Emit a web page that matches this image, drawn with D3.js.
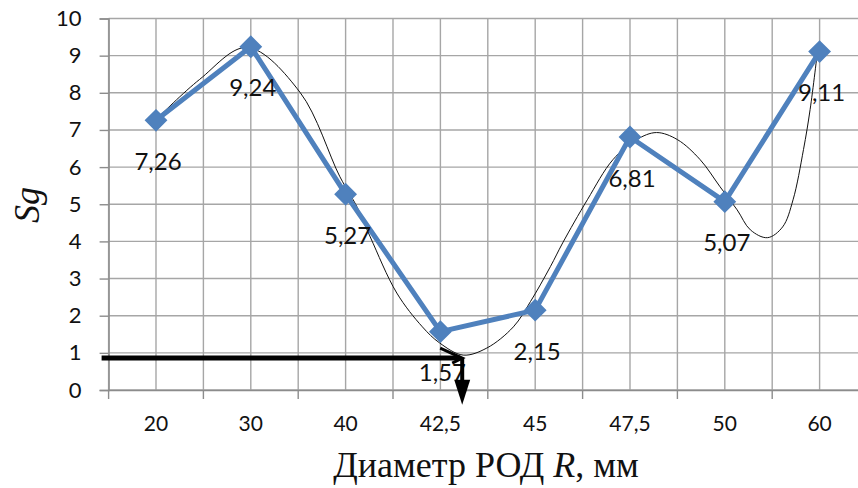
<!DOCTYPE html>
<html>
<head>
<meta charset="utf-8">
<script src="https://cdn.jsdelivr.net/npm/d3@7"></script>
<style>
  body { margin: 0; background: #fff; }
  svg { display: block; }
</style>
</head>
<body>
<svg id="chart" width="858" height="488"></svg>
<script>
// categories and values
var categories = ["20", "30", "40", "42,5", "45", "47,5", "50", "60"];
var sgValues = [7.26, 9.24, 5.27, 1.57, 2.15, 6.81, 5.07, 9.11];
var yTicks = [0, 1, 2, 3, 4, 5, 6, 7, 8, 9, 10];

// thin trend curve, [category position, value]
var trendPos = [0.02, 0.46, 0.96, 1.52, 1.94, 2.12, 2.26, 2.54, 2.81, 2.99, 3.24, 3.49, 3.77, 3.95, 4.16, 4.29, 4.55, 4.82, 5.07, 5.28, 5.5, 5.74, 5.95, 6.13, 6.27, 6.45, 6.61, 6.72, 6.83, 6.9, 6.98];
var trendVal = [7.33, 8.36, 9.22, 8.01, 5.74, 4.93, 4.12, 2.61, 1.7, 1.27, 0.94, 1.13, 1.7, 2.38, 3.32, 3.96, 5.12, 6.2, 6.74, 6.93, 6.74, 6.2, 5.47, 4.85, 4.31, 4.1, 4.39, 5.12, 6.47, 7.55, 9.16];

// annotation arrows (value / category position)
var arrowLevel = 0.86;
var arrowEndPos = 3.23;
var arrowDownTo = -0.4;

var svg = d3.select("#chart");
var blue = "#4F81BD";
var gridCol = "#a6a6a6";
var axisCol = "#8c8c8c";

var plotLeft = 108.6, plotRight = 867, plotTop = 18.5, plotBottom = 390;

var xBand = d3.scaleBand().domain(categories).range([plotLeft, plotRight]);
var xPos = d3.scaleLinear().domain([-0.5, categories.length - 0.5]).range([plotLeft, plotRight]);
var yScale = d3.scaleLinear().domain([0, 10]).range([plotBottom, plotTop]);

// gridlines
var grid = svg.append("g");
grid.selectAll("line.h")
  .data(yTicks)
  .enter()
  .append("line")
  .attr("class", "h")
  .attr("x1", plotLeft)
  .attr("x2", plotRight)
  .attr("y1", function(d) { return yScale(d); })
  .attr("y2", function(d) { return yScale(d); })
  .attr("stroke", gridCol)
  .attr("stroke-width", 1.4);

var halfSteps = d3.range(0, categories.length * 2 + 1).map(function(k) { return -0.5 + k * 0.5; });
grid.selectAll("line.v")
  .data(halfSteps)
  .enter()
  .append("line")
  .attr("class", "v")
  .attr("x1", function(d) { return xPos(d); })
  .attr("x2", function(d) { return xPos(d); })
  .attr("y1", plotTop)
  .attr("y2", plotBottom)
  .attr("stroke", gridCol)
  .attr("stroke-width", 1.4);

// y axis
var yAxis = svg.append("g")
  .attr("transform", "translate(" + plotLeft + ",0)")
  .call(d3.axisLeft(yScale).tickValues(yTicks).tickSize(9).tickPadding(18));
yAxis.select(".domain").attr("stroke", axisCol).attr("stroke-width", 1.4);
yAxis.selectAll(".tick line").attr("stroke", axisCol).attr("stroke-width", 1.4);
yAxis.selectAll(".tick text")
  .attr("font-family", "Lato, 'Open Sans', sans-serif")
  .attr("font-size", 22)
  .attr("fill", "#111");

// x axis
var xAxis = svg.append("g")
  .attr("transform", "translate(0," + plotBottom + ")")
  .call(d3.axisBottom(xBand).tickSize(0).tickPadding(26));
xAxis.select(".domain").attr("stroke", axisCol).attr("stroke-width", 1.4);
xAxis.selectAll(".tick text")
  .attr("font-family", "Lato, 'Open Sans', sans-serif")
  .attr("font-size", 21)
  .attr("fill", "#111");

xAxis.selectAll("line.bound")
  .data(d3.range(0, categories.length + 1))
  .enter()
  .append("line")
  .attr("class", "bound")
  .attr("x1", function(d) { return xPos(d - 0.5); })
  .attr("x2", function(d) { return xPos(d - 0.5); })
  .attr("y1", 0)
  .attr("y2", 9)
  .attr("stroke", axisCol)
  .attr("stroke-width", 1.4);

// trend curve
var trendLine = d3.line()
  .x(function(d) { return xPos(d[0]); })
  .y(function(d) { return yScale(d[1]); })
  .curve(d3.curveCatmullRom);

svg.append("path")
  .datum(trendPos.map(function(p, i) { return [p, trendVal[i]]; }))
  .attr("d", trendLine)
  .attr("fill", "none")
  .attr("stroke", "#111")
  .attr("stroke-width", 1);

// main series
var seriesLine = d3.line()
  .x(function(d, i) { return xPos(i); })
  .y(function(d) { return yScale(d); });

svg.append("path")
  .datum(sgValues)
  .attr("d", seriesLine)
  .attr("fill", "none")
  .attr("stroke", blue)
  .attr("stroke-width", 5)
  .attr("stroke-linejoin", "round");

var diamond = d3.symbol().type(d3.symbolSquare).size(200);
svg.selectAll("path.marker")
  .data(sgValues)
  .enter()
  .append("path")
  .attr("class", "marker")
  .attr("d", diamond)
  .attr("transform", function(d, i) {
    return "translate(" + xPos(i) + "," + yScale(d) + ") rotate(45)";
  })
  .attr("fill", blue)
  .attr("stroke", blue)
  .attr("stroke-width", 2);

// data labels
svg.selectAll("text.values")
  .data(sgValues)
  .enter()
  .append("text")
  .attr("class", "values")
  .attr("x", function(d, i) { return xPos(i) + 2; })
  .attr("y", function(d) { return yScale(d) + 41; })
  .attr("dy", "0.36em")
  .style("text-anchor", "middle")
  .attr("font-family", "Lato, 'Open Sans', sans-serif")
  .attr("font-size", 24)
  .attr("fill", "#111")
  .text(function(d) { return String(d).replace(".", ","); });

// annotation arrows
var ay = yScale(arrowLevel);
var ax = xPos(arrowEndPos);
svg.append("line")
  .attr("x1", plotLeft - 7)
  .attr("x2", ax - 2)
  .attr("y1", ay)
  .attr("y2", ay)
  .attr("stroke", "#000")
  .attr("stroke-width", 5);
svg.append("path")
  .attr("d", "M" + (ax - 22) + "," + (ay - 10) + "L" + ax + "," + ay + "L" + (ax - 10) + "," + (ay + 5))
  .attr("fill", "none")
  .attr("stroke", "#000")
  .attr("stroke-width", 3);

var by = yScale(arrowDownTo);
svg.append("line")
  .attr("x1", ax)
  .attr("x2", ax)
  .attr("y1", ay)
  .attr("y2", by - 20)
  .attr("stroke", "#000")
  .attr("stroke-width", 4);
svg.append("path")
  .attr("d", "M" + (ax - 8) + "," + (by - 25) + "L" + (ax + 8) + "," + (by - 25) + "L" + ax + "," + by + "Z")
  .attr("fill", "#000");

// axis titles
svg.append("text")
  .attr("transform", "translate(39,205) rotate(-90)")
  .style("text-anchor", "middle")
  .attr("font-family", "'Liberation Serif', 'DejaVu Serif', serif")
  .attr("font-style", "italic")
  .attr("font-size", 36)
  .attr("fill", "#111")
  .text("Sg");

var xTitle = svg.append("text")
  .attr("x", 486)
  .attr("y", 477)
  .style("text-anchor", "middle")
  .attr("font-family", "'Liberation Serif', 'DejaVu Serif', serif")
  .attr("font-size", 36)
  .attr("fill", "#111");
xTitle.append("tspan").text("Диаметр РОД ");
xTitle.append("tspan").attr("font-style", "italic").text("R");
xTitle.append("tspan").text(", мм");
</script>
</body>
</html>
